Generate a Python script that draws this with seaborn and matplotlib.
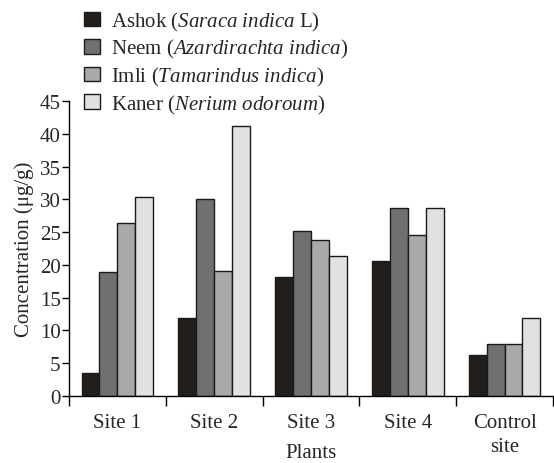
import matplotlib
matplotlib.use("Agg")
import matplotlib.pyplot as plt
import seaborn as sns
import pandas as pd
from matplotlib.ticker import FixedLocator, NullFormatter

sites = ["Site 1", "Site 2", "Site 3", "Site 4", "Control\nsite"]
ashok = [3.5, 11.9, 18.1, 20.6, 6.2]
neem = [18.9, 30.0, 25.1, 28.7, 7.9]
imli = [26.4, 19.0, 23.8, 24.5, 8.0]
kaner = [30.4, 41.2, 21.4, 28.7, 11.9]

plants = ["Ashok", "Neem", "Imli", "Kaner"]
legend_labels = [
    r"Ashok ($\mathit{Saraca\ indica}$ L)",
    r"Neem ($\mathit{Azardirachta\ indica}$)",
    r"Imli ($\mathit{Tamarindus\ indica}$)",
    r"Kaner ($\mathit{Nerium\ odoroum}$)",
]
colors = ["#221e1c", "#717071", "#a9a9a9", "#e1e1e1"]

rows = []
for name, vals in zip(plants, [ashok, neem, imli, kaner]):
    for s, v in zip(sites, vals):
        rows.append({"site": s, "plant": name, "value": v})
df = pd.DataFrame(rows)

sns.set_theme(style="white")
plt.rcParams["font.family"] = ["Liberation Serif", "DejaVu Serif"]
plt.rcParams["mathtext.fontset"] = "custom"
plt.rcParams["mathtext.rm"] = "Liberation Serif"
plt.rcParams["mathtext.it"] = "Liberation Serif:italic"

FS = 15

fig = plt.figure(figsize=(5.54, 4.64), dpi=100)
ax = fig.add_axes([0.1245, 0.1444, 0.8735, 0.6358])

sns.barplot(data=df, x="site", y="value", hue="plant", order=sites,
            hue_order=plants, palette=colors, width=0.74, ax=ax,
            edgecolor="#1a1a1a", linewidth=1.0, saturation=1, legend=True)

ax.set_xlim(-0.5, 4.5)
ax.set_ylim(0, 45)
ax.set_yticks(range(0, 46, 5))
ax.tick_params(axis="y", direction="out", length=5, width=1, color="black",
               labelsize=FS, pad=1, left=True)
ax.set_xticks(range(len(sites)))
ax.set_xticklabels(sites, fontsize=FS, linespacing=1.4)
ax.tick_params(axis="x", which="major", length=0, pad=12)
ax.xaxis.set_minor_locator(FixedLocator([-0.5, 0.5, 1.5, 2.5, 3.5, 4.5]))
ax.xaxis.set_minor_formatter(NullFormatter())
ax.tick_params(axis="x", which="minor", direction="out", length=7, width=1,
               color="black", bottom=True)

for side in ["top", "right"]:
    ax.spines[side].set_visible(False)
for side in ["left", "bottom"]:
    ax.spines[side].set_color("black")
    ax.spines[side].set_linewidth(1.0)

ax.set_xlabel("Plants", fontsize=FS)
ax.xaxis.set_label_coords(0.5, -0.16)
ax.set_ylabel("Concentration (\u03bcg/g)", fontsize=FS, labelpad=4)

handles, _ = ax.get_legend_handles_labels()
ax.legend_.remove()
fig.legend(handles, legend_labels, loc="upper left",
           bbox_to_anchor=(0.152, 0.977), frameon=False, fontsize=FS,
           handlelength=0.75, handleheight=0.7, handletextpad=0.55,
           labelspacing=0.22, borderaxespad=0, borderpad=0)

fig.savefig("out.png", dpi=100)
